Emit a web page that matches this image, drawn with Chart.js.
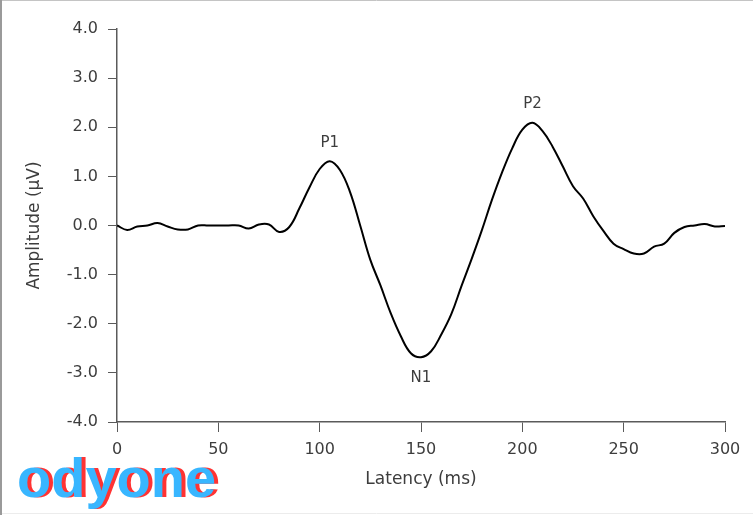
<!DOCTYPE html>
<html>
<head>
<meta charset="utf-8">
<script src="https://cdn.jsdelivr.net/npm/chart.js@4"></script>
<style>
  html, body { margin: 0; padding: 0; background: #fff; }
  #wrap { position: relative; width: 753px; height: 515px; }
</style>
</head>
<body>
<div id="wrap"><canvas id="erpChart" width="753" height="515"></canvas></div>
<script>
// latency (ms) and amplitude (µV)
const latency = [0, 5, 10, 15, 20, 25, 30, 35, 40, 45, 50, 55, 60, 65, 70, 75, 80, 85, 90, 95,
  100, 105, 110, 115, 120, 125, 130, 135, 140, 145, 150, 155, 160, 165, 170, 175, 180, 185, 190, 195,
  200, 205, 210, 215, 220, 225, 230, 235, 240, 245, 250, 255, 260, 265, 270, 275, 280, 285, 290, 295, 300];
const amplitude = [0.0, -0.09, -0.02, 0.0, 0.05, -0.02, -0.08, -0.08, 0.0, 0.0, 0.0, 0.0, 0.0, -0.06, 0.02, 0.02, -0.13, -0.03, 0.35, 0.78,
  1.15, 1.31, 1.13, 0.68, 0.0, -0.7, -1.22, -1.78, -2.25, -2.6, -2.68, -2.56, -2.22, -1.8, -1.23, -0.68, -0.1, 0.52, 1.08, 1.57,
  1.95, 2.09, 1.92, 1.6, 1.2, 0.8, 0.55, 0.19, -0.11, -0.37, -0.48, -0.57, -0.57, -0.43, -0.37, -0.15, -0.03, 0.0, 0.03, -0.02, -0.01];

// component labels: name, latency, amplitude where label sits
const peakNames = ['P1', 'N1', 'P2'];
const peakLatency = [105, 150, 205];
const peakLabelAmp = [1.68, -3.1, 2.47];

const yTicks = [-4, -3, -2, -1, 0, 1, 2, 3, 4];
const xTicks = [0, 50, 100, 150, 200, 250, 300];

const textColor = '#3d3d3d';
const axisColor = '#5a5a5a';
const fontName = "'DejaVu Sans', sans-serif";

const peakLabels = {
    id: 'peakLabels',
    afterDatasetsDraw: (chart) => {
        const ctx = chart.ctx;
        const xs = chart.scales.x, ys = chart.scales.y;
        ctx.save();
        ctx.fillStyle = textColor;
        ctx.font = '15px ' + fontName;
        ctx.textAlign = 'center';
        ctx.textBaseline = 'middle';
        peakNames.forEach((n, i) => {
            ctx.fillText(n, xs.getPixelForValue(peakLatency[i]), ys.getPixelForValue(peakLabelAmp[i]));
        });
        ctx.restore();
    }
};

// axis titles, frame and the logo
const extras = {
    id: 'extras',
    afterDraw: (chart) => {
        const ctx = chart.ctx;
        const area = chart.chartArea;
        ctx.save();
        ctx.fillStyle = textColor;
        ctx.font = '17px ' + fontName;
        ctx.textAlign = 'center';
        ctx.textBaseline = 'middle';
        ctx.fillText('Latency (ms)', (area.left + area.right) / 2, 480);
        ctx.save();
        ctx.translate(35, (area.top + area.bottom) / 2);
        ctx.rotate(-Math.PI / 2);
        ctx.fillText('Amplitude (µV)', 0, 0);
        ctx.restore();

        ctx.lineWidth = 1;
        ctx.strokeStyle = '#c4c4c4';
        ctx.beginPath(); ctx.moveTo(0, 0.5); ctx.lineTo(chart.width, 0.5); ctx.stroke();
        ctx.strokeStyle = '#ececec';
        ctx.beginPath(); ctx.moveTo(0, 513.5); ctx.lineTo(chart.width, 513.5); ctx.stroke();
        ctx.strokeStyle = '#9a9a9a';
        ctx.lineWidth = 2;
        ctx.beginPath(); ctx.moveTo(1, 0); ctx.lineTo(1, chart.height); ctx.stroke();

        ctx.font = 'bold 56px "Liberation Sans", Arial, sans-serif';
        ctx.textBaseline = 'alphabetic';
        ctx.textAlign = 'left';
        ctx.fillStyle = '#ff3333';
        ctx.fillText('odyone', 21, 497);
        ctx.fillStyle = '#38b6ff';
        ctx.fillText('odyone', 17, 497);
        ctx.restore();
    }
};

const ctx = document.getElementById('erpChart').getContext('2d');
const erpChart = new Chart(ctx, {
    type: 'line',
    data: {
        datasets: [{
            data: latency.map((t, i) => ({ x: t, y: amplitude[i] })),
            borderColor: '#000',
            borderWidth: 2,
            pointRadius: 0,
            tension: 0.4,
            fill: false
        }]
    },
    options: {
        responsive: false,
        animation: false,
        layout: { padding: { left: 0, right: 28, top: 29, bottom: 0 } },
        plugins: { legend: { display: false }, tooltip: { enabled: false } },
        scales: {
            x: {
                type: 'linear',
                min: 0, max: 300,
                afterBuildTicks: (s) => { s.ticks = xTicks.map(v => ({ value: v })); },
                afterFit: (s) => { s.height = 93; },
                grid: { drawOnChartArea: false, drawTicks: true, tickLength: 10, color: axisColor },
                border: { display: true, color: axisColor, width: 1.5 },
                ticks: { color: textColor, font: { family: fontName, size: 16 }, padding: 8 }
            },
            y: {
                min: -4, max: 4,
                afterBuildTicks: (s) => { s.ticks = yTicks.map(v => ({ value: v })); },
                afterFit: (s) => { s.width = 117; },
                grid: { drawOnChartArea: false, drawTicks: true, tickLength: 9, color: axisColor },
                border: { display: true, color: axisColor, width: 1.5 },
                ticks: { color: textColor, font: { family: fontName, size: 16 }, padding: 10, callback: (v) => v.toFixed(1) }
            }
        }
    },
    plugins: [peakLabels, extras]
});
</script>
</body>
</html>
